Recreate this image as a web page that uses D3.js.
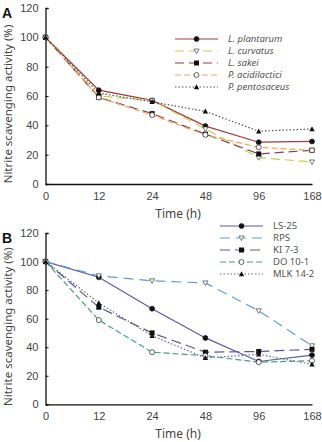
<!DOCTYPE html>
<html>
<head>
<meta charset="utf-8">
<script src="https://cdn.jsdelivr.net/npm/d3@7"></script>
<style>
  body { margin: 0; background: #fff; }
  svg { display: block; font-family: "Noto Sans", "Open Sans", sans-serif; }
</style>
</head>
<body>
<div id="chart"></div>
<script>
// time points (categorical x axis)
const times = ["0", "12", "24", "48", "96", "168"];
const yTicks = [0, 20, 40, 60, 80, 100, 120];

// panel A
const plantarum    = [100, 64, 57, 39.5, 28.5, 29];
const curvatus     = [100, 60, 57, 37.5, 18, 15];
const sakei        = [100, 59, 48, 34, 20.5, 23];
const acidilactici = [100, 59, 47, 33.5, 25, 23];
const pentosaceus  = [100, 62, 56, 49.5, 36, 37.5];

// panel B
const ls25   = [100, 89, 67, 46.5, 30, 34.5];
const rps    = [100, 90, 86.5, 85, 65.5, 41];
const ki73   = [100, 68, 50, 36.5, 37, 38.5];
const do101  = [100, 59, 36.5, 34, 29.5, 30.5];
const mlk142 = [100, 71, 48, 32.5, 35, 28];

const seriesA = [
  {name: "L. plantarum", values: plantarum, color: "#a8393b", dash: null, marker: "circle", fill: "#111"},
  {name: "L. curvatus", values: curvatus, color: "#bcd54a", dash: "9,5", marker: "tri", fill: "#fff"},
  {name: "L. sakei", values: sakei, color: "#8e3c50", dash: "9,5", marker: "square", fill: "#111"},
  {name: "P. acidilactici", values: acidilactici, color: "#f0a85a", dash: "6,3", marker: "circle", fill: "#fff"},
  {name: "P. pentosaceus", values: pentosaceus, color: "#555", dash: "1.5,2", marker: "tri-up", fill: "#111"}
];
const seriesB = [
  {name: "LS-25", values: ls25, color: "#5c5aa8", dash: null, marker: "circle", fill: "#111"},
  {name: "RPS", values: rps, color: "#5c9de0", dash: "10,6", marker: "tri", fill: "#fff"},
  {name: "KI 7-3", values: ki73, color: "#585890", dash: "10,5", marker: "square", fill: "#111"},
  {name: "DO 10-1", values: do101, color: "#45a088", dash: "6,3", marker: "circle", fill: "#fff"},
  {name: "MLK 14-2", values: mlk142, color: "#6a6a90", dash: "1.5,2", marker: "tri-up", fill: "#111"}
];

const W = 322, H = 442;
const svg = d3.select("#chart").append("svg").attr("width", W).attr("height", H);

function drawMarker(g, type, fill) {
  if (type === "circle") {
    g.append("circle").attr("r", 2.5).attr("fill", fill).attr("stroke", "#222").attr("stroke-width", 0.7);
  } else if (type === "square") {
    g.append("rect").attr("x", -2.5).attr("y", -2.5).attr("width", 5).attr("height", 5).attr("fill", fill);
  } else if (type === "tri") {
    g.append("path").attr("d", "M-2.6,-2L2.6,-2L0,2.6Z").attr("fill", fill).attr("stroke", "#444").attr("stroke-width", 0.7);
  } else {
    g.append("path").attr("d", "M-2.7,2.2L2.7,2.2L0,-2.8Z").attr("fill", fill);
  }
}

function panel(opts) {
  const {series, top, bottom, label, legendX, legendY, italic} = opts;
  const x = d3.scalePoint().domain(times).range([45.5, 312]);
  const y = d3.scaleLinear().domain([0, 120]).range([bottom, top]);
  const g = svg.append("g");

  // y axis
  const ya = g.append("g").attr("transform", `translate(45.5,0)`)
    .call(d3.axisLeft(y).tickValues(yTicks).tickSize(-3).tickPadding(7));
  ya.select(".domain").attr("stroke", "#111").attr("stroke-width", 1.3);
  ya.selectAll(".tick line").attr("stroke", "#111");
  ya.selectAll("text").attr("font-size", 11).attr("fill", "#444");

  // x axis
  const xa = g.append("g").attr("transform", `translate(0,${bottom})`)
    .call(d3.axisBottom(x).tickSize(0).tickPadding(8));
  xa.select(".domain").attr("stroke", "#111").attr("stroke-width", 1.3);
  xa.selectAll("text").attr("font-size", 11).attr("fill", "#444");

  g.append("text").attr("x", 178).attr("y", bottom + 34).attr("text-anchor", "middle")
    .attr("font-size", 12).attr("fill", "#444").text("Time (h)");
  g.append("text").attr("transform", `translate(12,${(top + bottom) / 2 + 8}) rotate(-90)`)
    .attr("text-anchor", "middle").attr("font-size", 11.5).attr("fill", "#444")
    .text("Nitrite scavenging activity (%)");
  g.append("text").attr("x", 2).attr("y", top + 10).attr("font-size", 14)
    .attr("font-weight", "bold").attr("font-family", "Liberation Sans, Arial, sans-serif")
    .attr("fill", "#111").text(label);

  const line = d3.line().x((d, i) => x(times[i])).y(d => y(d));
  series.forEach(s => {
    g.append("path").datum(s.values).attr("d", line).attr("fill", "none")
      .attr("stroke", s.color).attr("stroke-width", 1.2)
      .attr("stroke-dasharray", s.dash);
  });
  series.forEach(s => {
    s.values.forEach((v, i) => {
      const m = g.append("g").attr("transform", `translate(${x(times[i])},${y(v)})`);
      drawMarker(m, s.marker, s.fill);
    });
  });

  // legend
  series.forEach((s, i) => {
    const ly = legendY + i * 12;
    g.append("line").attr("x1", legendX).attr("x2", legendX + 43).attr("y1", ly).attr("y2", ly)
      .attr("stroke", s.color).attr("stroke-width", 1.2).attr("stroke-dasharray", s.dash);
    const m = g.append("g").attr("transform", `translate(${legendX + 21.5},${ly})`);
    drawMarker(m, s.marker, s.fill);
    g.append("text").attr("x", legendX + 53).attr("y", ly + 3.3).attr("font-size", 9.5)
      .attr("fill", "#555").attr("font-style", italic ? "italic" : "normal").text(s.name);
  });
}

panel({series: seriesA, top: 8, bottom: 184, label: "A", legendX: 175, legendY: 39, italic: true});
panel({series: seriesB, top: 233, bottom: 404.3, label: "B", legendX: 220, legendY: 226, italic: false});
</script>
</body>
</html>
